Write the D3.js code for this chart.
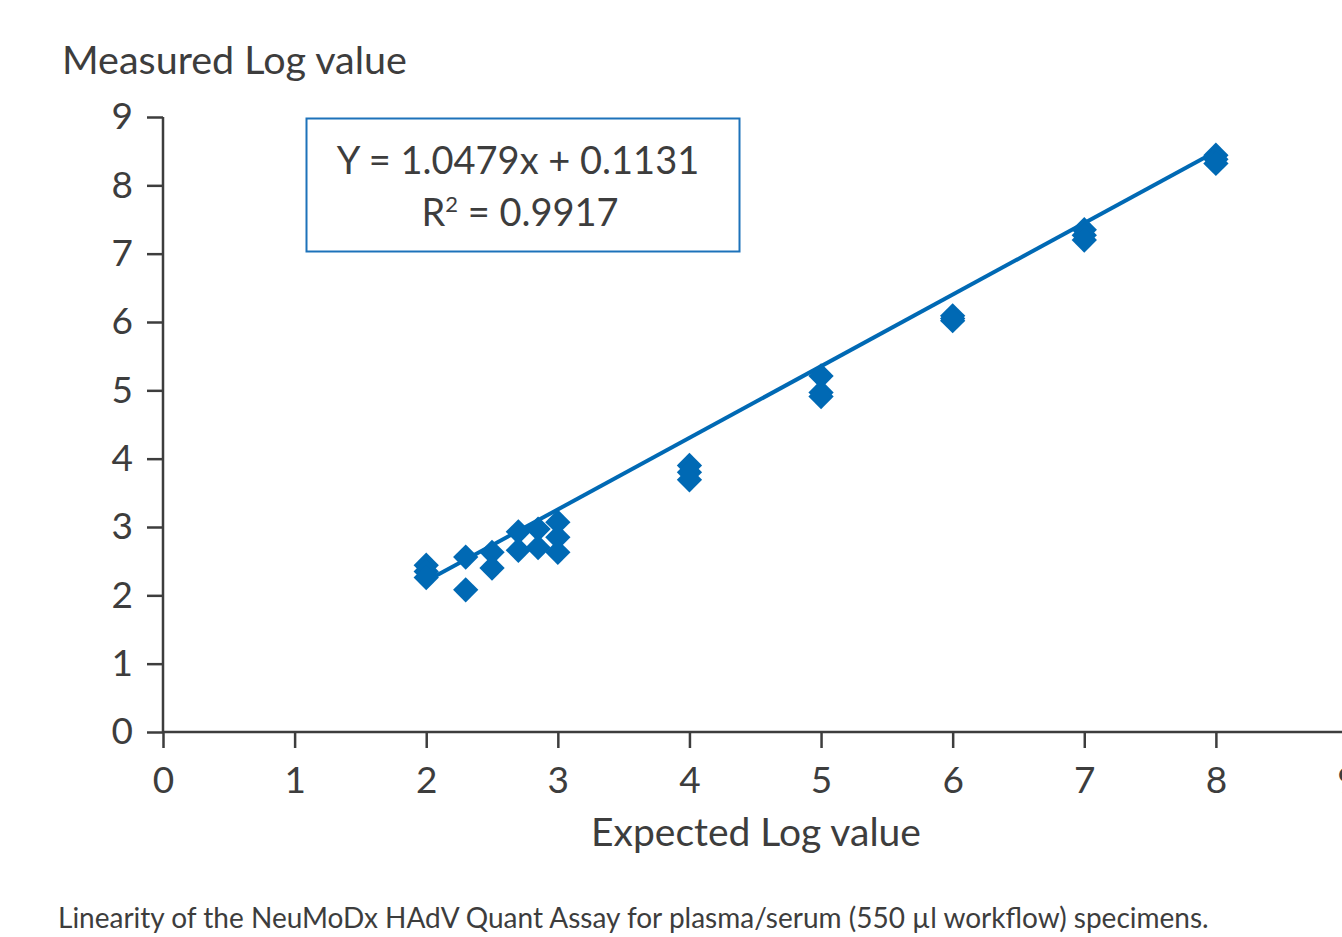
<!DOCTYPE html>
<html>
<head>
<meta charset="utf-8">
<script src="https://cdn.jsdelivr.net/npm/d3@7"></script>
<style>
  html, body { margin: 0; padding: 0; background: #fff; overflow: hidden; }
  svg { display: block; }
  text { font-family: Lato, "Open Sans", sans-serif; fill: #3d3d3d; }
</style>
</head>
<body>
<svg id="chart" width="1342" height="937"></svg>
<script>
// Expected vs measured log values (replicates per level)
const expectedLog = [2, 2, 2, 2.3, 2.3, 2.5, 2.5, 2.7, 2.7, 2.85, 2.85, 3, 3, 3,
                     4, 4, 4, 5, 5, 5, 6, 6, 6, 7, 7, 7, 8, 8, 8];
const measuredLog = [2.44, 2.35, 2.26, 2.56, 2.08, 2.63, 2.40, 2.93, 2.66, 2.97, 2.70, 3.07, 2.85, 2.63,
                     3.90, 3.80, 3.69, 5.21, 4.97, 4.91, 6.09, 6.05, 6.02, 7.35, 7.27, 7.20, 8.44, 8.38, 8.32];

// Linear fit shown in the annotation box
const fitSlope = 1.0479;
const fitIntercept = 0.1131;
const fitR2 = 0.9917;
const fitRange = [2, 8];

const xTicks = [0, 1, 2, 3, 4, 5, 6, 7, 8, 9];
const yTicks = [0, 1, 2, 3, 4, 5, 6, 7, 8, 9];

const blue = "#0069b4";
const axisColor = "#3d3d3d";

const svg = d3.select("#chart");

const x = d3.scaleLinear().domain([0, 9]).range([163, 1347.5]);
const y = d3.scaleLinear().domain([0, 9]).range([732, 117]);

// Axes
const xAxis = svg.append("g")
  .attr("transform", `translate(0,${y(0)})`)
  .call(d3.axisBottom(x).tickValues(xTicks).tickFormat(d3.format("d")).tickSize(16).tickPadding(19).tickSizeOuter(0));
const yAxis = svg.append("g")
  .attr("transform", `translate(${x(0)},0)`)
  .call(d3.axisLeft(y).tickValues(yTicks).tickFormat(d3.format("d")).tickSize(16).tickPadding(14).tickSizeOuter(0));

[xAxis, yAxis].forEach(g => {
  g.select(".domain").attr("stroke", axisColor).attr("stroke-width", 2.5);
  g.selectAll(".tick line").attr("stroke", axisColor).attr("stroke-width", 2.5);
  g.selectAll(".tick text")
    .attr("font-family", "Lato, 'Open Sans', sans-serif")
    .attr("font-size", 37)
    .attr("fill", axisColor);
});
// x domain line runs from the origin to the right edge
xAxis.select(".domain").attr("d", `M${x(0)},0H1342`);
yAxis.select(".domain").attr("d", `M0,${y(9)}V${y(0)}`);

// Fit line
const line = d3.line().x(d => x(d)).y(d => y(fitSlope * d + fitIntercept));
svg.append("path")
  .datum(fitRange)
  .attr("d", line)
  .attr("fill", "none")
  .attr("stroke", blue)
  .attr("stroke-width", 4);

// Data markers (diamonds)
const diamond = d3.symbol().type(d3.symbolSquare).size(320);
svg.append("g").selectAll("path")
  .data(expectedLog.map((e, i) => [e, measuredLog[i]]))
  .join("path")
  .attr("d", diamond)
  .attr("transform", d => `translate(${x(d[0])},${y(d[1])}) rotate(45)`)
  .attr("fill", blue);

// Annotation box
svg.append("rect")
  .attr("x", 306.5).attr("y", 118.5).attr("width", 433).attr("height", 133)
  .attr("fill", "#fff").attr("stroke", "#1d72ba").attr("stroke-width", 2);
svg.append("text")
  .attr("x", 518).attr("y", 174)
  .attr("text-anchor", "middle").attr("font-size", 38)
  .text(`Y = ${fitSlope}x + ${fitIntercept}`);
const r2 = svg.append("text")
  .attr("x", 520).attr("y", 226)
  .attr("text-anchor", "middle").attr("font-size", 38);
r2.append("tspan").text("R");
r2.append("tspan").attr("font-size", 22).attr("dy", -14).text("2");
r2.append("tspan").attr("dy", 14).text(` = ${fitR2}`);

// Axis titles
svg.append("text")
  .attr("x", 62).attr("y", 74)
  .attr("font-size", 39.5)
  .text("Measured Log value");
svg.append("text")
  .attr("x", 756).attr("y", 846)
  .attr("text-anchor", "middle").attr("font-size", 39)
  .text("Expected Log value");

// Caption
svg.append("text")
  .attr("x", 58).attr("y", 928)
  .attr("font-size", 28)
  .text("Linearity of the NeuMoDx HAdV Quant Assay for plasma/serum (550 µl workflow) specimens.");
</script>
</body>
</html>
